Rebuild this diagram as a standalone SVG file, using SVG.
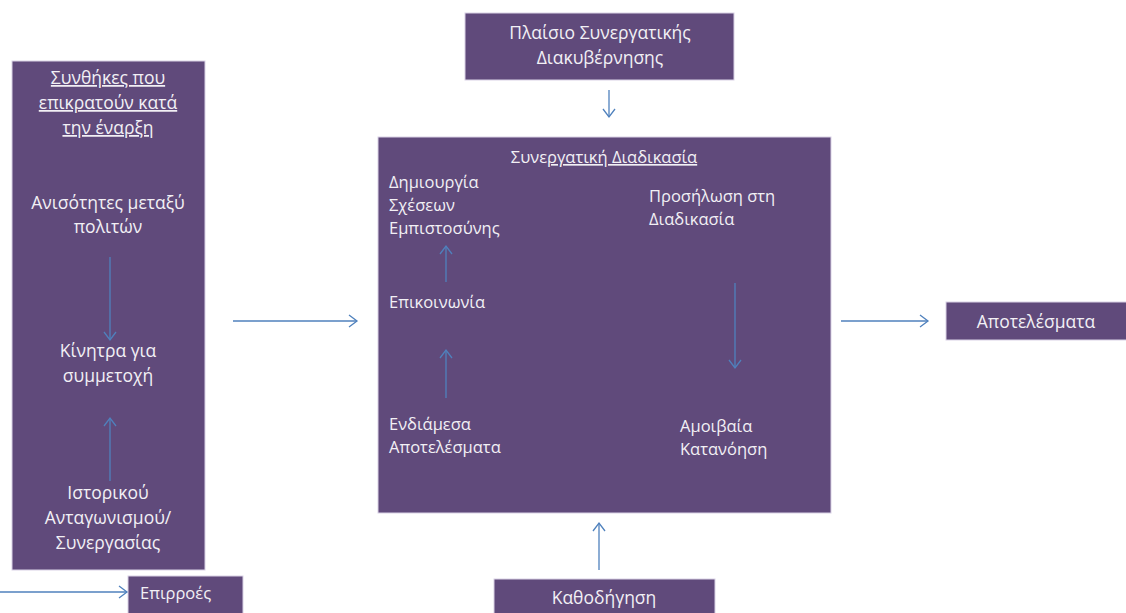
<svg xmlns="http://www.w3.org/2000/svg" width="1126" height="613" viewBox="0 0 1126 613">
<style>
.box{fill:#604a7b;stroke:#d9d2e6;stroke-width:1}
.t{font-family:"Open Sans","Liberation Sans",sans-serif;font-size:17.5px;fill:#f2f0f5}
.s{font-size:16.5px}
.c{text-anchor:middle}
.u{text-decoration:underline}
.ln{stroke:#4f81bd;stroke-width:1.3;fill:none;marker-end:url(#ah)}
</style>
<defs>
<marker id="ah" markerWidth="14" markerHeight="14" refX="12" refY="7" orient="auto" markerUnits="userSpaceOnUse">
<polyline points="4,1 12,7 4,13" fill="none" stroke="#4f81bd" stroke-width="1.3"/>
</marker>
</defs>
<rect width="1126" height="613" fill="#ffffff"/>
<g id="conditions">
<rect class="box" x="12" y="61" width="193" height="509"/>
<text class="t c u" x="108" y="84">Συνθήκες που</text>
<text class="t c u" x="108" y="109">επικρατούν κατά</text>
<text class="t c u" x="108" y="134">την έναρξη</text>
<text class="t c" x="108" y="209">Ανισότητες μεταξύ</text>
<text class="t c" x="108" y="233">πολιτών</text>
<text class="t c" x="108" y="357">Κίνητρα για</text>
<text class="t c" x="108" y="382">συμμετοχή</text>
<text class="t c" x="108" y="499">Ιστορικού</text>
<text class="t c" x="108" y="524">Ανταγωνισμού/</text>
<text class="t c" x="108" y="549">Συνεργασίας</text>
</g>
<g id="influences">
<rect class="box" x="128" y="576" width="115" height="40"/>
<text class="t s" x="140" y="599">Επιρροές</text>
</g>
<g id="framework">
<rect class="box" x="465" y="13" width="269" height="67"/>
<text class="t c" x="600" y="39">Πλαίσιο Συνεργατικής</text>
<text class="t c" x="600" y="64">Διακυβέρνησης</text>
</g>
<g id="process">
<rect class="box" x="378" y="137" width="453" height="376"/>
<text class="t s c" x="604" y="163">Συνε<tspan class="u">ργατική Διαδικασία</tspan></text>
<text class="t s" x="389" y="188">Δημιουργία</text>
<text class="t s" x="389" y="211">Σχέσεων</text>
<text class="t s" x="389" y="234">Εμπιστοσύνης</text>
<text class="t s" x="389" y="308">Επικοινωνία</text>
<text class="t s" x="389" y="430">Ενδιάμεσα</text>
<text class="t s" x="389" y="453">Αποτελέσματα</text>
<text class="t s" x="649" y="202">Προσήλωση στη</text>
<text class="t s" x="649" y="225">Διαδικασία</text>
<text class="t s" x="680" y="432">Αμοιβαία</text>
<text class="t s" x="680" y="455">Κατανόηση</text>
</g>
<g id="guidance">
<rect class="box" x="494" y="579" width="221" height="40"/>
<text class="t c" x="604" y="604">Καθοδήγηση</text>
</g>
<g id="outcomes">
<rect class="box" x="946" y="302" width="185" height="38"/>
<text class="t c" x="1036" y="328">Αποτελέσματα</text>
</g>
<g id="connectors">
<line class="ln" x1="110" y1="257" x2="110" y2="340"/>
<line class="ln" x1="110" y1="481" x2="110" y2="418"/>
<line class="ln" x1="0" y1="592" x2="127" y2="592"/>
<line class="ln" x1="233" y1="321" x2="357" y2="321"/>
<line class="ln" x1="609" y1="90" x2="609" y2="117"/>
<line class="ln" x1="446" y1="282" x2="446" y2="246"/>
<line class="ln" x1="446" y1="398" x2="446" y2="350"/>
<line class="ln" x1="735" y1="283" x2="735" y2="368"/>
<line class="ln" x1="599" y1="570" x2="599" y2="523"/>
<line class="ln" x1="841" y1="321" x2="928" y2="321"/>
</g>
</svg>
